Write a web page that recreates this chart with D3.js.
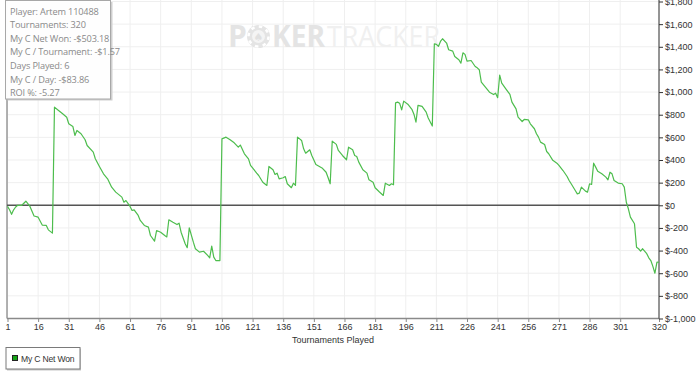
<!DOCTYPE html>
<html><head><meta charset="utf-8">
<script src="https://cdn.jsdelivr.net/npm/d3@7"></script>
<style>
html,body{margin:0;padding:0;background:#fff;}
svg{display:block;}
</style></head>
<body>
<svg id="chart" width="700" height="376"></svg>
<script>
// ---- data ----
const tournaments = [1,2,3,4,5,6,8,10,12,14,16,18,20,21,23,24,26,28,30,31,33,34,35,37,39,40,43,44,46,48,50,52,54,57,58,59,61,62,63,65,66,68,70,71,73,74,76,78,79,80,82,84,85,86,88,89,90,92,93,95,97,99,100,101,102,103,105,106,108,110,112,114,115,117,119,120,121,123,124,126,128,129,131,132,133,134,136,137,138,140,141,142,143,145,146,147,149,150,152,155,157,158,159,160,162,163,165,167,168,170,171,172,173,175,177,178,180,181,183,185,186,188,189,190,191,192,193,194,195,197,199,200,201,202,204,206,207,209,210,211,212,213,214,216,217,219,220,222,223,224,225,226,228,230,231,232,233,235,237,239,240,241,242,243,245,247,248,250,251,253,254,256,257,259,260,261,262,264,265,266,268,270,271,273,275,276,277,279,280,281,282,284,285,286,287,288,289,290,292,294,295,296,297,298,300,302,303,304,305,306,308,309,310,311,312,314,315,316,317,318,319,320];
const netWon = [-10,-40,-80,-40,-15,0,0,36,-10,-95,-105,-175,-178,-217,-246,867,837,808,778,720,696,617,661,632,579,528,469,411,343,278,234,160,116,72,27,42,-10,-46,-40,-90,-134,-178,-193,-267,-317,-223,-238,-267,-280,-128,-150,-170,-158,-238,-340,-375,-199,-326,-384,-414,-406,-443,-464,-361,-458,-488,-488,587,602,579,552,513,532,455,410,352,330,284,263,204,175,343,314,272,284,234,243,254,190,155,195,175,602,573,499,460,490,440,360,330,292,243,190,567,538,484,440,402,513,490,440,431,381,314,284,225,204,155,120,87,195,175,190,181,905,911,902,843,920,893,848,805,734,882,873,823,771,700,1427,1421,1403,1447,1471,1433,1374,1362,1314,1285,1255,1347,1333,1273,1279,1226,1214,1197,1087,1043,999,978,990,950,1150,1079,1028,979,911,852,778,740,758,755,720,676,632,602,558,537,475,455,397,372,352,307,254,219,190,131,101,107,160,125,116,190,184,372,337,301,278,249,225,292,278,219,196,190,160,27,-31,-105,-163,-370,-384,-405,-384,-428,-464,-488,-540,-600,-502,-503];
const xTicks = [1,16,31,46,61,76,91,106,121,136,151,166,181,196,211,226,241,256,271,286,301,320];
const yTicks = [-1000,-800,-600,-400,-200,0,200,400,600,800,1000,1200,1400,1600,1800];
const infoLines = ["Player: Artem 110488","Tournaments: 320","My C Net Won: -$503.18","My C / Tournament: -$1.57","Days Played: 6","My C / Day: -$83.86","ROI %: -5.27"];
const seriesName = "My C Net Won";
const xTitle = "Tournaments Played";

// ---- layout ----
const svg = d3.select("#chart");
const L = 7, R = 659, T = 1.5, B = 318.5;
const x = d3.scaleLinear().domain([1,320]).range([L+0.5, R]);
const y = d3.scaleLinear().domain([-1000,1800]).range([B, T]);
const money = v => v < 0 ? "$-" + d3.format(",")(-v) : "$" + d3.format(",")(v);
const axisFont = "'Liberation Sans', Arial, sans-serif";

// grid
const grid = svg.append("g");
grid.selectAll(".gx").data(xTicks).join("line")
  .attr("x1", d=>x(d)).attr("x2", d=>x(d)).attr("y1", 0).attr("y2", B)
  .attr("stroke", "#efefef").attr("stroke-width", 1);
grid.selectAll(".gy").data(yTicks).join("line")
  .attr("x1", L).attr("x2", R).attr("y1", d=>y(d)).attr("y2", d=>y(d))
  .attr("stroke", "#efefef").attr("stroke-width", 1);

// watermark
const wm = svg.append("g");
wm.append("text").attr("x", 228).attr("y", 47).text("P")
  .attr("font-family", "'Open Sans', sans-serif").attr("font-weight", 700)
  .attr("font-size", 30).attr("fill", "#e4e4e4");
wm.append("circle").attr("cx", 258.5).attr("cy", 36.5).attr("r", 11.5).attr("fill", "#e4e4e4");
wm.append("circle").attr("cx", 258.5).attr("cy", 36.5).attr("r", 10)
  .attr("fill", "none").attr("stroke", "#fff").attr("stroke-width", 2.5)
  .attr("stroke-dasharray", "3.5 4.35");
wm.append("circle").attr("cx", 258.5).attr("cy", 36.5).attr("r", 6.5).attr("fill", "#f4f4f4");
wm.append("text").attr("x", 258.5).attr("y", 40.5).attr("text-anchor", "middle")
  .attr("font-size", 11).attr("fill", "#e0e0e0").attr("font-family", "'DejaVu Sans'").text("\u2660");
wm.append("text").attr("x", 272).attr("y", 47).text("KER")
  .attr("font-family", "'Open Sans', sans-serif").attr("font-weight", 700)
  .attr("font-size", 30).attr("fill", "#e4e4e4")
  .attr("textLength", 53).attr("lengthAdjust", "spacingAndGlyphs");
wm.append("text").attr("x", 327).attr("y", 47).text("TRACKER")
  .attr("font-family", "'Open Sans', sans-serif").attr("font-weight", 400)
  .attr("font-size", 30).attr("fill", "#f0f0f0")
  .attr("textLength", 113).attr("lengthAdjust", "spacingAndGlyphs");

// borders / axes
svg.append("line").attr("x1", L).attr("x2", L).attr("y1", 0).attr("y2", B)
  .attr("stroke", "#999").attr("stroke-width", 1.5);
svg.append("line").attr("x1", L).attr("x2", R).attr("y1", B).attr("y2", B)
  .attr("stroke", "#8a8a8a").attr("stroke-width", 1.5);

// bottom axis
const xAxis = svg.append("g").attr("transform", `translate(0,${B})`)
  .call(d3.axisBottom(x).tickValues(xTicks).tickSize(3.5).tickPadding(2).tickFormat(d3.format("d")));
xAxis.select(".domain").remove();
xAxis.selectAll("line").attr("stroke", "#888");
xAxis.selectAll("text").attr("font-family", axisFont).attr("font-size", 9).attr("fill", "#333");

// right axis
const yAxis = svg.append("g").attr("transform", `translate(${R},0)`)
  .call(d3.axisRight(y).tickValues(yTicks).tickSize(4).tickPadding(2).tickFormat(money));
yAxis.select(".domain").attr("stroke", "#333").attr("d", `M0,0V${B}`);
yAxis.selectAll("line").attr("stroke", "#333");
yAxis.selectAll("text").attr("font-family", axisFont).attr("font-size", 9).attr("fill", "#333");

// zero line
svg.append("line").attr("x1", L).attr("x2", R).attr("y1", y(0)).attr("y2", y(0))
  .attr("stroke", "#555").attr("stroke-width", 1.5);

// series line
const pts = tournaments.map((t,i)=>[t, netWon[i]]);
svg.append("path").datum(pts)
  .attr("d", d3.line().x(d=>x(d[0])).y(d=>y(d[1])))
  .attr("fill", "none").attr("stroke", "#4dbd4d").attr("stroke-width", 1.2)
  .attr("stroke-linejoin", "round");

// x title
svg.append("text").attr("x", 333).attr("y", 343).attr("text-anchor", "middle")
  .attr("font-family", axisFont).attr("font-size", 9).attr("fill", "#333").text(xTitle);

// info box
const info = svg.append("g");
info.append("rect").attr("x", 7.5).attr("y", 2).attr("width", 105).attr("height", 98.5)
  .attr("fill", "#cfcfcf");
info.append("rect").attr("x", 5.5).attr("y", 0.5).attr("width", 105).attr("height", 98.5)
  .attr("fill", "rgba(255,255,255,0.97)").attr("stroke", "#a8a8a8").attr("stroke-width", 1);
info.selectAll("text").data(infoLines).join("text")
  .attr("x", 10).attr("y", (d,i)=> 14.5 + i*13.6)
  .attr("font-family", "'Open Sans', 'Noto Sans', sans-serif").attr("font-size", 9.2)
  .attr("letter-spacing", -0.15)
  .attr("fill", "#8a8a8a").text(d=>d);

// legend
const lg = svg.append("g");
lg.append("rect").attr("x", 7).attr("y", 348.5).attr("width", 74).attr("height", 22).attr("fill", "#c8c8c8");
lg.append("rect").attr("x", 6).attr("y", 347.5).attr("width", 74).attr("height", 21.5)
  .attr("fill", "#fff").attr("stroke", "#7a7a7a").attr("stroke-width", 1);
lg.append("rect").attr("x", 12.5).attr("y", 355.5).attr("width", 5).attr("height", 5)
  .attr("fill", "#16a516").attr("stroke", "#222").attr("stroke-width", 1);
lg.append("text").attr("x", 21).attr("y", 361.5).attr("font-family", axisFont)
  .attr("font-size", 8.6).attr("fill", "#333").attr("letter-spacing", -0.2).text(seriesName);
</script>
</body></html>
